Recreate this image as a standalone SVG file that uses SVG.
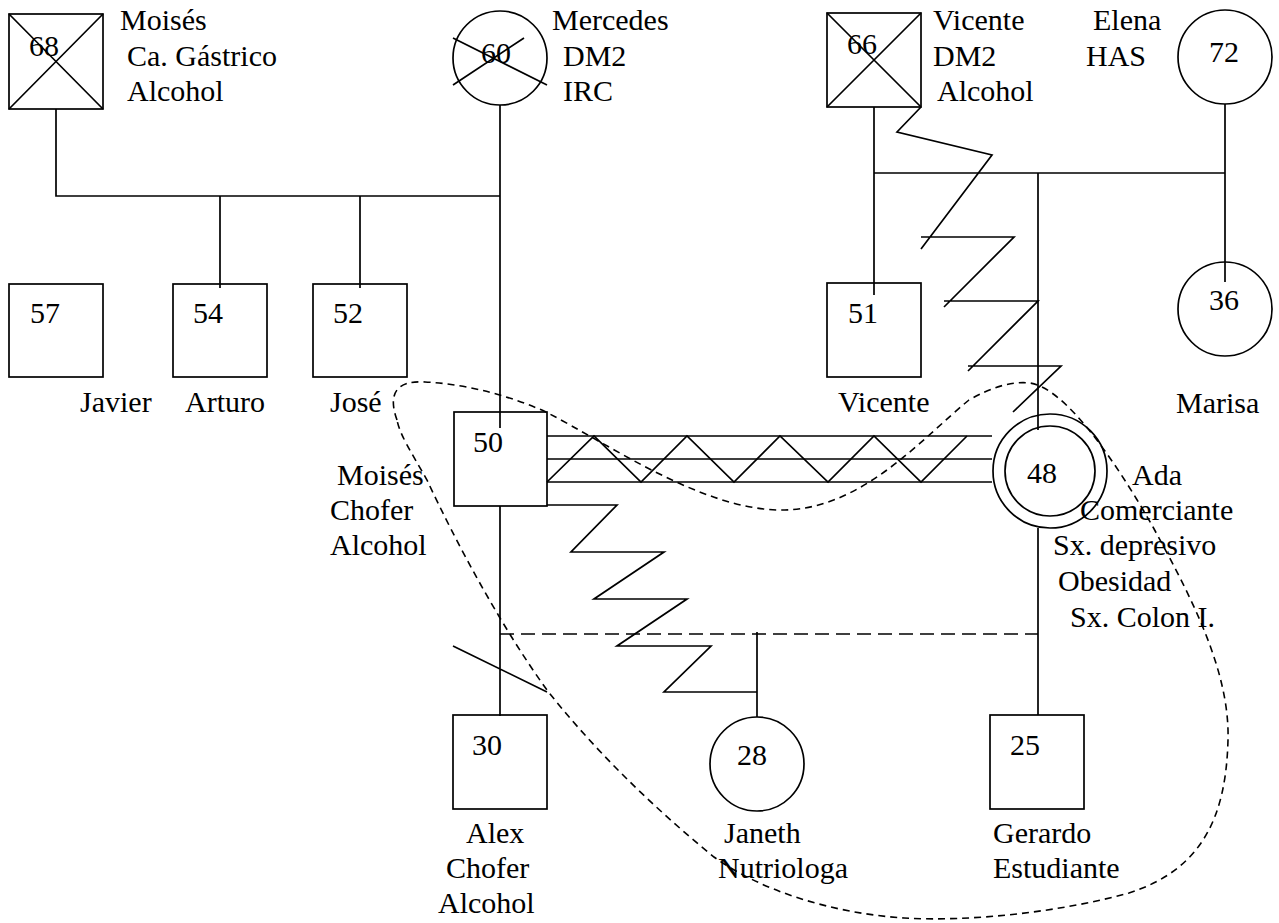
<svg xmlns="http://www.w3.org/2000/svg" width="1279" height="923" viewBox="0 0 1279 923">
<style>
text{font-family:"Liberation Serif","Times New Roman",serif;font-size:30px;fill:#000}
.s{fill:none;stroke:#000;stroke-width:1.7}
.f{fill:#fff;stroke:#000;stroke-width:1.7}
.d{fill:none;stroke:#000;stroke-width:1.7;stroke-dasharray:14 7}
.h{fill:none;stroke:#000;stroke-width:1.6;stroke-dasharray:7 5}
</style>
<rect width="1279" height="923" fill="#fff"/>
<g id="connectors">
<path class="s" d="M56,109V196H500M220,196V288M360,196V288M500,105V428"/>
<path class="s" d="M874,107V295M874,173H1225M1225,104V282M1038,173V430M1038,528V715"/>
<path class="s" d="M547,436H992M547,459H992M547,482H992"/>
<path class="s" d="M547,482L594,436L641,482L687,436L734,482L780,436L828,482L874,436L921,482L967,436"/>
<path class="s" d="M921,107L897,132L992,155L921,249M921,237H1014L944,307M944,301H1038L968,371M968,366H1061L1013,412"/>
<path class="s" d="M547,505H617L571,552H664L594,599H687L617,646H711L664,692H757M757,632V717"/>
<path class="s" d="M500,506V716M453,646L547,692"/>
<path class="d" d="M500,634H1038"/>
</g>
<g id="moises68">
<rect class="f" x="9" y="14" width="94" height="95"/>
<path class="s" d="M9,14L103,109M103,14L9,109"/>
<text x="29" y="56">68</text>
<text x="120" y="30">Moisés</text>
<text x="127" y="66">Ca. Gástrico</text>
<text x="127" y="101">Alcohol</text>
</g>
<g id="mercedes60">
<circle class="f" cx="500" cy="58" r="47"/>
<path class="s" d="M453,38L547,85M453,85L524,38"/>
<text x="481" y="63">60</text>
<text x="552" y="30">Mercedes</text>
<text x="563" y="66">DM2</text>
<text x="563" y="101">IRC</text>
</g>
<g id="vicente66">
<rect class="f" x="827" y="13" width="94" height="94"/>
<path class="s" d="M827,13L921,107M921,13L827,107"/>
<text x="847" y="54">66</text>
<text x="933" y="30">Vicente</text>
<text x="933" y="66">DM2</text>
<text x="937" y="101">Alcohol</text>
</g>
<g id="elena72">
<circle class="f" cx="1225" cy="57" r="47"/>
<text x="1209" y="62">72</text>
<text x="1093" y="30">Elena</text>
<text x="1086" y="66">HAS</text>
</g>
<g id="javier57">
<rect class="s" x="9" y="284" width="94" height="93"/>
<text x="30" y="323">57</text>
<text x="80" y="412">Javier</text>
</g>
<g id="arturo54">
<rect class="s" x="173" y="284" width="94" height="93"/>
<text x="193" y="323">54</text>
<text x="185" y="412">Arturo</text>
</g>
<g id="jose52">
<rect class="s" x="313" y="284" width="94" height="93"/>
<text x="333" y="323">52</text>
<text x="330" y="412">José</text>
</g>
<g id="vicente51">
<rect class="s" x="827" y="283" width="94" height="94"/>
<text x="848" y="323">51</text>
<text x="838" y="412">Vicente</text>
</g>
<g id="marisa36">
<circle class="s" cx="1225" cy="309" r="47"/>
<text x="1209" y="310">36</text>
<text x="1176" y="413">Marisa</text>
</g>
<g id="moises50">
<rect class="s" x="454" y="412" width="93" height="94"/>
<text x="473" y="452">50</text>
<text x="337" y="485">Moisés</text>
<text x="330" y="520">Chofer</text>
<text x="330" y="555">Alcohol</text>
</g>
<g id="ada48">
<circle class="s" cx="1050" cy="471" r="57"/>
<circle class="s" cx="1050" cy="471" r="45"/>
<text x="1027" y="483">48</text>
<text x="1132" y="485">Ada</text>
<text x="1080" y="520">Comerciante</text>
<text x="1053" y="555">Sx. depresivo</text>
<text x="1058" y="591">Obesidad</text>
<text x="1070" y="627">Sx. Colon I.</text>
</g>
<g id="alex30">
<rect class="s" x="453" y="715" width="94" height="94"/>
<text x="472" y="755">30</text>
<text x="466" y="843">Alex</text>
<text x="446" y="878">Chofer</text>
<text x="438" y="913">Alcohol</text>
</g>
<g id="janeth28">
<circle class="s" cx="757" cy="764" r="47"/>
<text x="737" y="765">28</text>
<text x="724" y="843">Janeth</text>
<text x="718" y="878">Nutriologa</text>
</g>
<g id="gerardo25">
<rect class="s" x="990" y="715" width="94" height="94"/>
<text x="1010" y="755">25</text>
<text x="993" y="843">Gerardo</text>
<text x="993" y="878">Estudiante</text>
</g>
<g id="household">
<path class="h" d="M397,420C388,395 395,380 425,382C470,384 515,398 546,412C610,445 700,508 778,510C860,512 920,440 969,400C990,388 1010,381 1030,383C1065,388 1115,460 1153,527C1190,595 1230,670 1228,740C1226,820 1200,870 1129,893C1060,912 970,922 904,918C830,913 760,890 714,857C650,805 590,745 547,690C500,625 455,540 427,480C410,450 400,435 397,420Z"/>
</g>
</svg>
